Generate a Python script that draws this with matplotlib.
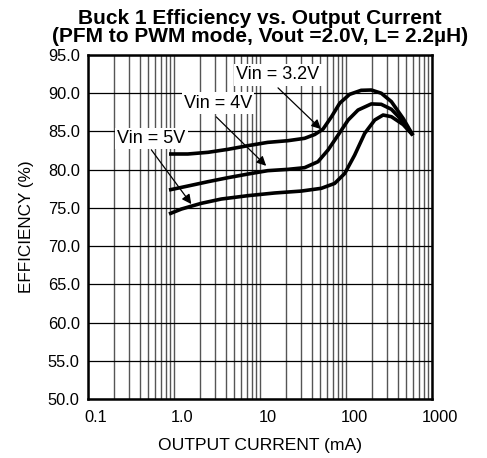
import matplotlib
matplotlib.use('Agg')
import matplotlib.pyplot as plt
import matplotlib.transforms as mtransforms

plt.rcParams['font.family'] = ['Liberation Sans', 'DejaVu Sans']

# Vin = 3.2V
i_32 = [0.875, 1.45, 2.49, 4.24, 7.25, 12.3, 21.1, 33.0, 43.3, 54.0, 67.6, 84.6,
        110, 150, 197, 257, 337, 462, 600]
eff_32 = [82.05, 82.05, 82.27, 82.66, 83.14, 83.57, 83.79, 84.1, 84.6, 85.3, 86.9, 88.7,
          89.85, 90.38, 90.42, 90.0, 88.9, 86.7, 84.5]

# Vin = 4V
i_4 = [0.875, 1.45, 2.49, 4.24, 7.25, 12.3, 21.1, 33.0, 47.2, 61.8, 81, 106,
       138, 197, 257, 337, 462, 600]
eff_4 = [77.34, 77.86, 78.43, 78.95, 79.43, 79.87, 80.04, 80.26, 81.04, 82.57, 84.53, 86.5,
         87.8, 88.6, 88.55, 87.9, 86.3, 84.5]

# Vin = 5V
i_5 = [0.875, 1.22, 2.08, 3.55, 7.25, 14.8, 30.2, 51.6, 73.8, 96.6, 126, 165,
       216, 270, 337, 462, 600]
eff_5 = [74.2, 74.85, 75.6, 76.16, 76.6, 76.95, 77.2, 77.56, 78.2, 79.5, 81.9, 84.75,
         86.5, 87.15, 86.93, 85.9, 84.5]

xticks = [0.1, 1, 10, 100, 1000]
xlabels = ['0.1', '1.0', '10', '100', '1000']
yticks = [50, 55, 60, 65, 70, 75, 80, 85, 90, 95]

fig = plt.figure(figsize=(4.87, 4.58), dpi=100)
ax = fig.add_axes([88/487, 1-399/458, 344/487, 344/458])

for x, y in [(i_32, eff_32), (i_4, eff_4), (i_5, eff_5)]:
    ax.plot(x, y, color='black', lw=2.6, solid_capstyle='butt', zorder=3)

ax.set_xscale('log')
ax.set_xlim(0.1, 1000)
ax.set_ylim(50, 95)
ax.set_xticks(xticks)
ax.set_xticklabels(xlabels)
ax.set_yticks(yticks)
ax.set_yticklabels(['%.1f' % v for v in yticks])
ax.tick_params(axis='both', which='both', length=0, labelsize=11.8)
ax.tick_params(axis='x', pad=8)
ax.tick_params(axis='y', pad=6)

ax.grid(True, which='major', axis='y', color='black', lw=0.9)
ax.grid(True, which='both', axis='x', color='#555555', lw=1.0)
for s in ax.spines.values():
    s.set_linewidth(1.8)

# shift x tick labels a little to the right, like the reference
off = mtransforms.ScaledTranslation(0.08, 0, fig.dpi_scale_trans)
for lab in ax.get_xticklabels():
    lab.set_transform(lab.get_transform() + off)

ax.set_xlabel('OUTPUT CURRENT (mA)', fontsize=12.6, labelpad=9)
ax.set_ylabel('EFFICIENCY (%)', fontsize=12.3, labelpad=10)
ax.set_title('Buck 1 Efficiency vs. Output Current\n(PFM to PWM mode, Vout =2.0V, L= 2.2\u00b5H)',
             fontsize=15, fontweight='bold', pad=9, linespacing=0.95)

box = dict(facecolor='white', edgecolor='none', pad=1.5)
arrow = dict(arrowstyle='-|>', color='black', lw=0.9, mutation_scale=14, shrinkA=0, shrinkB=0)
ax.text(16.2, 92.4, 'Vin = 3.2V', ha='center', va='center', fontsize=13, bbox=box, zorder=4)
ax.annotate('', xy=(51.2, 85.3), xytext=(16.2, 90.7), arrowprops=arrow, zorder=4)
ax.text(3.25, 88.7, 'Vin = 4V', ha='center', va='center', fontsize=13, bbox=box, zorder=4)
ax.annotate('', xy=(11.8, 80.5), xytext=(3.1, 86.9), arrowprops=arrow, zorder=4)
ax.text(0.547, 84.1, 'Vin = 5V', ha='center', va='center', fontsize=13, bbox=box, zorder=4)
ax.annotate('', xy=(1.59, 75.5), xytext=(0.545, 82.6), arrowprops=arrow, zorder=4)

fig.savefig('out.png', dpi=100)
